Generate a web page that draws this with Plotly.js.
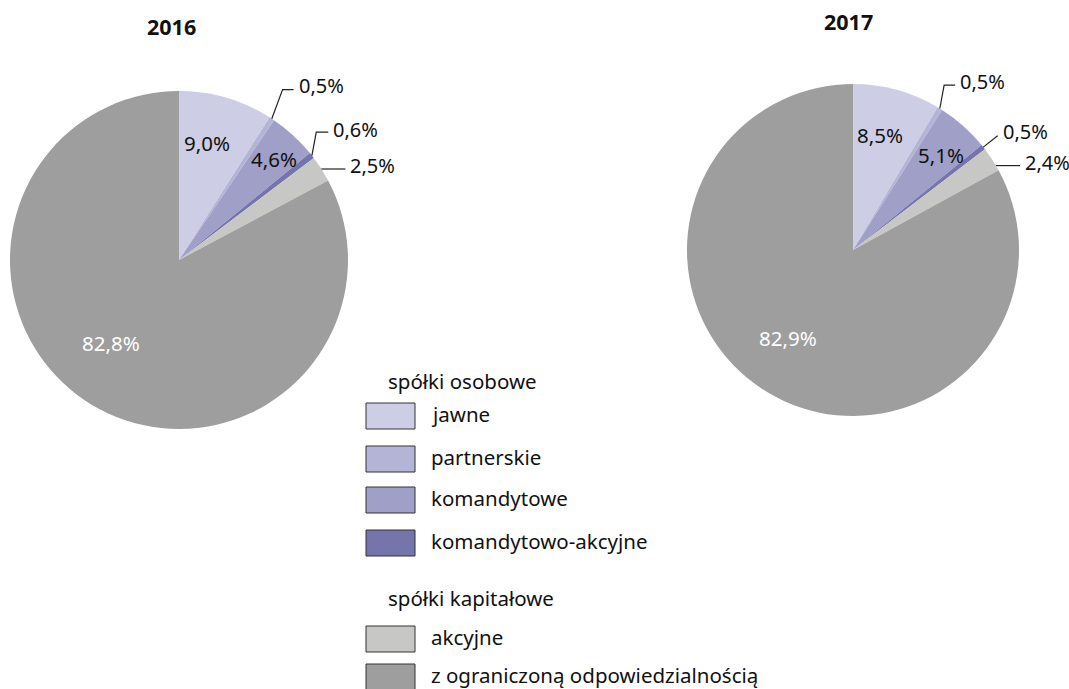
<!DOCTYPE html>
<html>
<head>
<meta charset="utf-8">
<script src="https://cdn.plot.ly/plotly-3.0.1.min.js"></script>
<style>html,body{margin:0;padding:0;background:#fff;}#chart{width:1069px;height:689px;}</style>
</head>
<body>
<div id="chart"></div>
<script>
// ---- data ----
const categories = ["jawne", "partnerskie", "komandytowe", "komandytowo-akcyjne", "akcyjne", "z ograniczoną odpowiedzialnością"];
const groupTitles = ["spółki osobowe", "spółki kapitałowe"];
const years = ["2016", "2017"];
const values2016 = [9.0, 0.5, 4.6, 0.6, 2.5, 82.8];
const values2017 = [8.5, 0.5, 5.1, 0.5, 2.4, 82.9];

// ---- style ----
const colors = ["#CDCDE5", "#B4B4D6", "#A09FC8", "#7675AB", "#C7C8C6", "#9D9E9D"];
const W = 1069, H = 689;
const FONT = "Noto Sans, Open Sans, sans-serif";
const FS = 20.5;
const LFS = 20;
// pie geometry in pixels and label placement style
// inside: da = angle nudge (deg), rf = radius factor; outside: ea = angle nudge, elbow = radius factor, hl = horizontal leader length, ty = text y offset
const pies = [
  {values: values2016, cx: 179, cy: 260, r: 169, title: {x: 171, y: 27},
   lab: [
     {da: -2.7, rf: 0.71, color: "#111"},
     {out: true, ea: -2.0, elbow: 1.18, hl: 11, ty: -4},
     {da: 1.0, rf: 0.82, color: "#111"},
     {out: true, ea: -4.8, elbow: 1.11, hl: 12, ty: -3},
     {out: true, ea: 0, elbow: 1.0, hl: 24, ty: -3},
     {da: 8.3, rf: 0.635, color: "#fff"}
   ]},
  {values: values2017, cx: 853, cy: 250, r: 166, title: {x: 848, y: 21},
   lab: [
     {da: -2.0, rf: 0.71, color: "#111"},
     {out: true, ea: -2.6, elbow: 1.135, hl: 11, ty: -4},
     {da: 1.2, rf: 0.78, color: "#111"},
     {out: true, ea: 0, elbow: 1.11, hl: 0, ty: -4},
     {out: true, ea: 2.5, elbow: 1.0, hl: 24, ty: -3},
     {da: 5.7, rf: 0.66, color: "#fff"}
   ]}
];

const px = x => x / W;
const py = y => 1 - y / H;
const fmt = v => v.toFixed(1).replace(".", ",") + "%";

const traces = [];
const annotations = [];
const shapes = [];

pies.forEach((p, i) => {
  traces.push({
    type: "pie",
    values: p.values,
    labels: categories,
    sort: false,
    direction: "clockwise",
    rotation: 0,
    marker: {colors: colors, line: {width: 0}},
    textinfo: "none",
    hoverinfo: "label+percent",
    showlegend: false,
    domain: {x: [px(p.cx - p.r), px(p.cx + p.r)], y: [py(p.cy + p.r), py(p.cy - p.r)]}
  });
  annotations.push({
    text: "<b>" + years[i] + "</b>", x: px(p.title.x), y: py(p.title.y),
    xref: "paper", yref: "paper", showarrow: false, xanchor: "center", yanchor: "middle",
    font: {family: FONT, size: 21.5, color: "#111"}
  });
  const total = p.values.reduce((a, b) => a + b, 0);
  let cum = 0;
  p.values.forEach((v, k) => {
    const a0 = cum / total * 360;
    cum += v;
    const a1 = cum / total * 360;
    const mid = (a0 + a1) / 2;
    const s = p.lab[k];
    if (!s.out) {
      const ang = (mid + s.da) * Math.PI / 180;
      const x = p.cx + s.rf * p.r * Math.sin(ang);
      const y = p.cy - s.rf * p.r * Math.cos(ang);
      annotations.push({text: fmt(v), x: px(x), y: py(y), xref: "paper", yref: "paper",
        showarrow: false, xanchor: "center", yanchor: "middle",
        font: {family: FONT, size: FS, color: s.color}});
    } else {
      const a = mid * Math.PI / 180;
      const b = (mid + s.ea) * Math.PI / 180;
      const startA = s.elbow === 1.0 ? b : a;
      const ex = p.cx + p.r * Math.sin(startA), ey = p.cy - p.r * Math.cos(startA);
      const bx = p.cx + s.elbow * p.r * Math.sin(b), by = p.cy - s.elbow * p.r * Math.cos(b);
      const hx = bx + s.hl;
      shapes.push({type: "path", xref: "paper", yref: "paper",
        path: `M ${px(ex)} ${py(ey)} L ${px(bx)} ${py(by)} L ${px(hx)} ${py(by)}`,
        line: {color: "#222", width: 1.2}});
      annotations.push({text: fmt(v), x: px(hx + 3), y: py(by + s.ty), xref: "paper", yref: "paper",
        showarrow: false, xanchor: "left", yanchor: "middle",
        font: {family: FONT, size: LFS, color: "#111"}});
    }
  });
});

// ---- manual grouped legend ----
const legX = 366, boxW = 49, boxH = 26, textX = 429;
const groupTitleY = [381, 598];
const itemY = [416, 459, 500, 543, 639, 677];
groupTitles.forEach((g, gi) => {
  annotations.push({text: g, x: px(386), y: py(groupTitleY[gi]), xref: "paper", yref: "paper",
    showarrow: false, xanchor: "left", yanchor: "middle", font: {family: FONT, size: FS, color: "#111"}});
});
categories.forEach((c, k) => {
  const yc = itemY[k];
  shapes.push({type: "rect", xref: "paper", yref: "paper",
    x0: px(legX), x1: px(legX + boxW), y0: py(yc + boxH / 2), y1: py(yc - boxH / 2),
    fillcolor: colors[k], line: {color: "#333", width: 1}});
  annotations.push({text: c, x: px(textX), y: py(yc - 2), xref: "paper", yref: "paper",
    showarrow: false, xanchor: "left", yanchor: "middle", font: {family: FONT, size: FS, color: "#111"}});
});

const layout = {
  width: W, height: H,
  margin: {l: 0, r: 0, t: 0, b: 0},
  paper_bgcolor: "#fff",
  showlegend: false,
  annotations: annotations,
  shapes: shapes,
  font: {family: FONT}
};
Plotly.newPlot("chart", traces, layout, {displayModeBar: false, staticPlot: true});
</script>
</body>
</html>
